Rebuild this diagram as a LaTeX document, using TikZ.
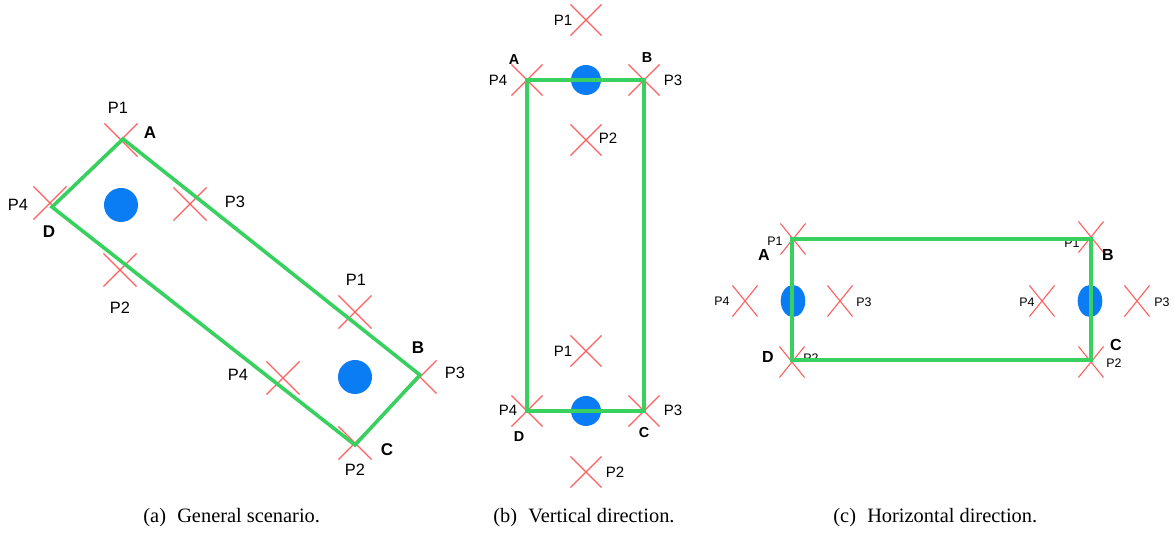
\documentclass[tikz,border=0pt]{standalone}
\usepackage{fontspec}
\setmainfont{Liberation Serif}
\setsansfont{Liberation Sans}
\usetikzlibrary{shapes.misc, shapes.geometric}
\definecolor{rimgreen}{HTML}{38D05E}
\definecolor{crossred}{HTML}{FF5F5F}
\definecolor{tagblue}{HTML}{0A7DF5}

\begin{document}
\begin{tikzpicture}[
    x=0.5pt, y=-0.5pt,
    xa/.style={cross out, draw=crossred, line width=0.55pt, minimum size=16pt, inner sep=0pt},
    xb/.style={xa, minimum size=15pt},
    xc/.style={xa, minimum width=12pt, minimum height=15pt},
    blob/.style={circle, fill=tagblue, inner sep=0pt, minimum size=17pt},
    blobb/.style={blob, minimum size=15pt},
    blobc/.style={ellipse, fill=tagblue, inner sep=0pt, minimum width=12.3pt, minimum height=16pt},
    rim/.style={draw=rimgreen, line width=1.8pt},
    lbla/.style={font=\sffamily\fontsize{8.2}{9}\selectfont, inner sep=0pt},
    lblb/.style={font=\sffamily\fontsize{7.5}{8}\selectfont, inner sep=0pt},
    lblc/.style={font=\sffamily\fontsize{6.2}{7}\selectfont, inner sep=0pt},
    taga/.style={font=\sffamily\bfseries\fontsize{8.5}{9}\selectfont, inner sep=0pt},
    tagb/.style={font=\sffamily\bfseries\fontsize{7.2}{8}\selectfont, inner sep=0pt},
    tagc/.style={font=\sffamily\bfseries\fontsize{8}{9}\selectfont, inner sep=0pt},
    subcap/.style={font=\fontsize{10.2}{12}\selectfont, anchor=west, inner sep=0pt}
]
    \useasboundingbox (0,0) rectangle (1174,533);

    % panel (a): general scenario
    \coordinate (aA) at (123,139);
    \coordinate (aB) at (420,375);
    \coordinate (aC) at (355,445);
    \coordinate (aD) at (52,207);
    \foreach \x/\y [count=\i] in {121/140, 50/203, 190/204, 120/270, 355/312, 283/378, 420/377, 355/443}
        \node[xa] (ax\i) at (\x,\y) {};
    \node[blob] (ablob1) at (121,205) {};
    \node[blob] (ablob2) at (355,377) {};
    \foreach \x/\y/\t [count=\i] in {118/108/P1, 18/205/P4, 235/202/P3, 120/308/P2,
                                     356/280/P1, 238/375/P4, 455/373/P3, 355/470/P2}
        \node[lbla] (al\i) at (\x,\y) {\t};
    \foreach \x/\y/\t in {150/133/A, 418/348/B, 387/450/C, 49/232/D}
        \node[taga] (at\t) at (\x,\y) {\t};
    \draw[rim] (aA) -- (aB) -- (aC) -- (aD) -- cycle;

    % panel (b): vertical direction
    \coordinate (bA) at (527,80);
    \coordinate (bB) at (644,80);
    \coordinate (bC) at (644,411);
    \coordinate (bD) at (527,411);
    \foreach \x/\y [count=\i] in {586/20, 527/80, 644/80, 586/140, 586/351, 527/411, 644/411, 586/472}
        \node[xb] (bx\i) at (\x,\y) {};
    \node[blobb] (bblob1) at (586,80) {};
    \node[blobb] (bblob2) at (586,411) {};
    \foreach \x/\y/\t [count=\i] in {563/20/P1, 498/80/P4, 673/80/P3, 608/138/P2,
                                     563/351/P1, 508/410/P4, 673/410/P3, 615/472/P2}
        \node[lblb] (bl\i) at (\x,\y) {\t};
    \foreach \x/\y/\t in {514/60/A, 647/58/B, 644/433/C, 519/437/D}
        \node[tagb] (bt\t) at (\x,\y) {\t};
    \draw[rim, line width=2pt] (bA) -- (bB) -- (bC) -- (bD) -- cycle;

    % panel (c): horizontal direction
    \coordinate (cA) at (792,239);
    \coordinate (cB) at (1091,239);
    \coordinate (cC) at (1091,360);
    \coordinate (cD) at (792,360);
    \foreach \x/\y [count=\i] in {793/239, 745/301, 840/301, 792/362, 1091/237, 1042/301, 1137/301, 1091/362}
        \node[xc] (cx\i) at (\x,\y) {};
    \node[blobc] (cblob1) at (793,301) {};
    \node[blobc] (cblob2) at (1090,301) {};
    \foreach \x/\y/\t [count=\i] in {775/241/P1, 722/301/P4, 864/302/P3, 811/358/P2,
                                     1072/243/P1, 1027/302/P4, 1162/302/P3, 1114/363/P2}
        \node[lblc] (cl\i) at (\x,\y) {\t};
    \foreach \x/\y/\t in {764/255/A, 1108/255/B, 1116/345/C, 768/357/D}
        \node[tagc] (ct\t) at (\x,\y) {\t};
    \draw[rim, line width=2.2pt] (cA) -- (cB) -- (cC) -- (cD) -- cycle;

    % captions
    \node[subcap] (capa) at (143,518) {(a)\hspace{0.55em}General scenario.};
    \node[subcap] (capb) at (493,518) {(b)\hspace{0.55em}Vertical direction.};
    \node[subcap] (capc) at (833,518) {(c)\hspace{0.55em}Horizontal direction.};
\end{tikzpicture}
\end{document}
